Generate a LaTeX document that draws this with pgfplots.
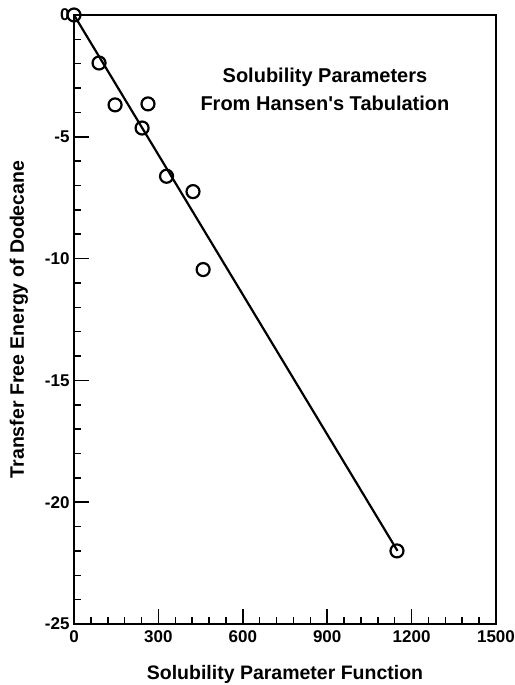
\documentclass[border=0pt]{standalone}
\usepackage{pgfplots}
\pgfplotsset{compat=1.18}
\usepackage{fontspec}
\setmainfont{Liberation Sans}
\begin{document}
\begin{tikzpicture}
\begin{axis}[
  name=ax,
  scale only axis,
  width=422bp, height=609bp,
  xmin=0, xmax=1500, ymin=-25, ymax=0,
  xtick={0,300,...,1500}, ytick={-25,-20,...,0},
  minor x tick num=4, minor y tick num=4,
  tick align=inside,
  xtick pos=bottom, ytick pos=left,
  major tick length=15bp, minor tick length=7bp,
  every tick/.style={line width=1.5pt, black},
  axis line style={line width=2pt},
  /pgf/number format/assume math mode=true,
  /pgf/number format/set thousands separator={},
  ticklabel style={font=\fontsize{17bp}{19bp}\selectfont\bfseries},
  xticklabel style={yshift=-3bp},
  yticklabel style={xshift=-1bp},
  xlabel={Solubility Parameter Function},
  ylabel={Transfer Free Energy of Dodecane},
  label style={font=\fontsize{19.5bp}{21bp}\selectfont\bfseries},
  xlabel style={yshift=-16bp},
  ylabel style={yshift=10bp},
  clip=false,
]
\addplot[black, line width=2.2pt] coordinates {(0,0) (1150,-22)};
\addplot[only marks, mark=o, mark size=6.5bp, mark options={line width=2.2pt, black}] coordinates {
(0,0) (89,-1.97) (146,-3.69) (263,-3.65) (242,-4.64) (329,-6.62) (423,-7.25) (459,-10.45) (1148,-22.0)
};
\node[font=\fontsize{20bp}{25bp}\selectfont\bfseries, align=center] at (axis cs:892,-3.05) {Solubility Parameters\\[3bp]From Hansen\textquotesingle s Tabulation};
\end{axis}
\pgfresetboundingbox
\path ([shift={(-74bp,-61bp)}]ax.south west) rectangle ([shift={(19bp,15bp)}]ax.north east);
\end{tikzpicture}
\end{document}
